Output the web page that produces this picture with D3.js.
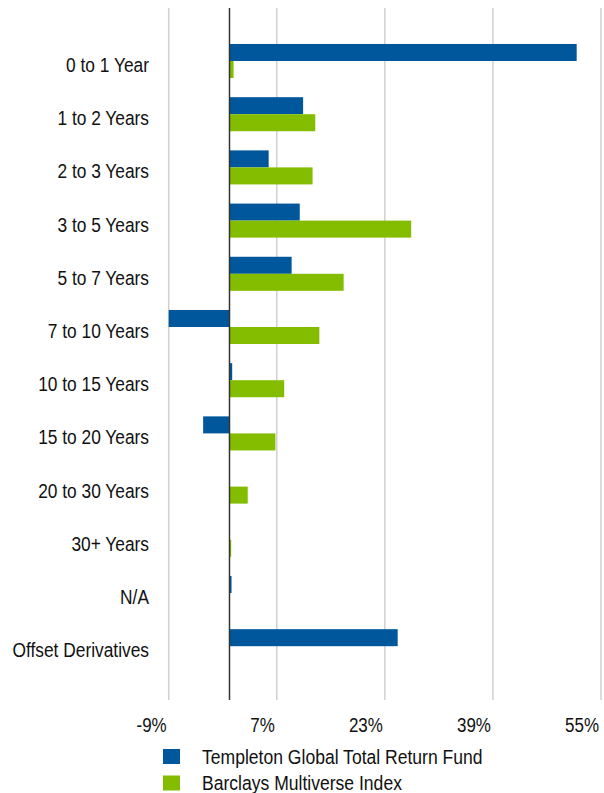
<!DOCTYPE html>
<html>
<head>
<meta charset="utf-8">
<script src="https://cdn.jsdelivr.net/npm/d3@7"></script>
<style>
  html, body { margin: 0; padding: 0; background: #fff; }
  svg { display: block; }
  text { font-family: "Liberation Sans", Arial, sans-serif; fill: #111; }
</style>
</head>
<body>
<svg id="chart" width="604" height="793"></svg>
<script>
// Maturity buckets, top to bottom
const categories = [
  "0 to 1 Year", "1 to 2 Years", "2 to 3 Years", "3 to 5 Years",
  "5 to 7 Years", "7 to 10 Years", "10 to 15 Years", "15 to 20 Years",
  "20 to 30 Years", "30+ Years", "N/A", "Offset Derivatives"
];
// Percent weights per bucket
const fundValues  = [51.4, 10.9, 5.8, 10.4, 9.2, -9.0, 0.4, -3.9, 0, 0, 0.3, 24.9];
const indexValues = [0.6, 12.7, 12.3, 26.9, 16.9, 13.3, 8.1, 6.8, 2.7, 0.25, 0, 0];
const seriesNames = ["Templeton Global Total Return Fund", "Barclays Multiverse Index"];
const seriesColors = ["#00579B", "#84BD00"];
const tickValues = [-9, 7, 23, 39, 55];

const svg = d3.select("#chart");
const fontSize = 19.5;

const x = d3.scaleLinear().domain([-9, 55]).range([168.7, 601]);
const gridTop = 8, gridBottom = 700;

const y = d3.scaleBand()
  .domain(categories)
  .range([34.4, 672.8])
  .paddingInner(0.36)
  .paddingOuter(0.18);

const ySub = d3.scaleBand()
  .domain(seriesNames)
  .range([0, y.bandwidth()]);

// vertical gridlines
svg.append("g").selectAll("line")
  .data(tickValues)
  .join("line")
  .attr("x1", d => x(d)).attr("x2", d => x(d))
  .attr("y1", gridTop).attr("y2", gridBottom)
  .attr("stroke", "#d0d0d0")
  .attr("stroke-width", 1.5);

// bars
const rows = categories.map((c, i) => ({ c, vals: [fundValues[i], indexValues[i]] }));
const barG = svg.append("g");
rows.forEach(r => {
  r.vals.forEach((v, j) => {
    if (v === 0) return;
    barG.append("rect")
      .attr("x", x(Math.min(0, v)))
      .attr("width", Math.abs(x(v) - x(0)))
      .attr("y", y(r.c) + ySub(seriesNames[j]))
      .attr("height", ySub.bandwidth())
      .attr("fill", seriesColors[j]);
  });
});

// zero baseline
svg.append("line")
  .attr("x1", x(0)).attr("x2", x(0))
  .attr("y1", gridTop).attr("y2", gridBottom)
  .attr("stroke", "#333")
  .attr("stroke-width", 1.5);

function label(g, tx, ty, str, anchor, sx) {
  g.append("text")
    .attr("transform", `translate(${tx},${ty}) scale(${sx},1)`)
    .attr("text-anchor", anchor)
    .attr("font-size", fontSize)
    .text(str);
}

// category labels
const catG = svg.append("g");
categories.forEach(c => {
  label(catG, 149, y(c) + y.bandwidth() / 2 + 11, c, "end", 0.89);
});

// x tick labels
const tickG = svg.append("g");
tickValues.forEach(t => {
  label(tickG, x(t) - 2, 732, t + "%", "end", 0.87);
});

// legend
const legG = svg.append("g");
seriesNames.forEach((n, i) => {
  const ly = 749 + i * 26.5;
  legG.append("rect")
    .attr("x", 163).attr("y", ly)
    .attr("width", 17).attr("height", 15)
    .attr("fill", seriesColors[i]);
  label(legG, 202, ly + 14.5, n, "start", 0.9);
});
</script>
</body>
</html>
